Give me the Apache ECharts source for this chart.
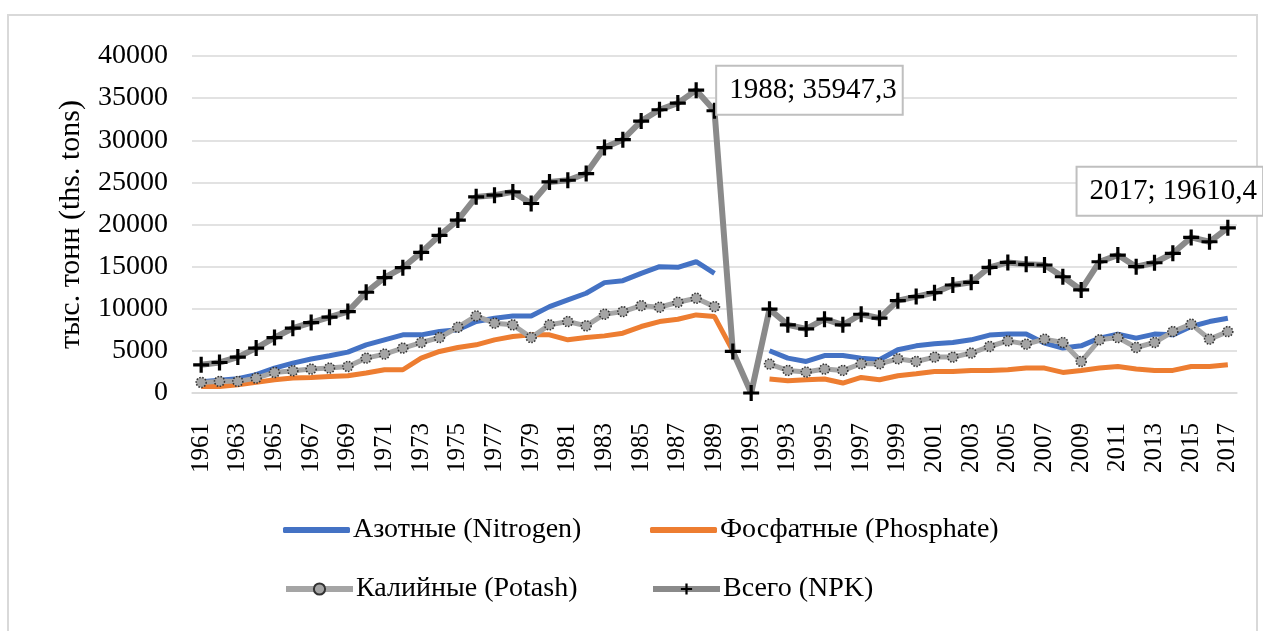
<!DOCTYPE html>
<html>
<head>
<meta charset="utf-8">
<script src="https://cdn.jsdelivr.net/npm/echarts@6/dist/echarts.min.js"></script>
<style>
  html, body { margin: 0; padding: 0; background: #fff; }
  #chart { width: 1263px; height: 631px; }
</style>
</head>
<body>
<div id="chart"></div>
<script>
// years 1961..2017
var years = [];
for (var y = 1961; y <= 2017; y++) years.push(String(y));

var nitrogen = [1350, 1500, 1700, 2170, 2960, 3550, 4030, 4420, 4850,
  5720, 6310, 6900, 6900, 7300, 7500, 8480, 8880, 9150, 9150,
  10250, 11050, 11840, 13100, 13330, 14200, 14990, 14920, 15580, 14210,
  null, null, 5010, 4140, 3740, 4450, 4450, 4140, 3940, 5130,
  5600, 5840, 5990, 6310, 6870, 6990, 6990, 5920, 5330, 5600,
  6510, 6990, 6510, 6990, 6900, 7890, 8480, 8880];

var phosphate = [780, 780, 980, 1260, 1570, 1770, 1850, 1970, 2050,
  2370, 2760, 2760, 4140, 4930, 5400, 5720, 6310, 6700, 6900,
  6900, 6310, 6580, 6780, 7100, 7890, 8480, 8760, 9270, 9070,
  5000, null, 1660, 1460, 1570, 1660, 1180, 1850, 1570, 2050,
  2290, 2560, 2560, 2680, 2680, 2760, 2960, 2960, 2440, 2680,
  2960, 3150, 2840, 2680, 2680, 3150, 3150, 3350];

var potash = [1260, 1380, 1380, 1770, 2440, 2640, 2840, 2960, 3150,
  4140, 4620, 5330, 5990, 6580, 7810, 9150, 8290, 8090, 6580,
  8090, 8480, 7970, 9350, 9660, 10370, 10180, 10770, 11250, 10250,
  null, null, 3430, 2680, 2490, 2840, 2680, 3470, 3470, 4060,
  3740, 4260, 4260, 4740, 5520, 6190, 5800, 6390, 5990, 3740,
  6310, 6580, 5400, 5990, 7290, 8170, 6390, 7290];

var npk = [3350, 3620, 4260, 5330, 6580, 7690, 8360, 9000, 9660,
  11960, 13690, 14870, 16690, 18700, 20520, 23280, 23480, 23870, 22490,
  25050, 25250, 26050, 29130, 30070, 32280, 33620, 34410, 35947.3, 33500,
  4930, 0, 9950, 8090, 7610, 8760, 8090, 9350, 8880, 10960,
  11440, 11910, 12820, 13140, 14920, 15500, 15270, 15190, 13800, 12230,
  15580, 16370, 14990, 15460, 16580, 18470, 17950, 19610.4];

var seriesNames = ['Азотные (Nitrogen)', 'Фосфатные (Phosphate)', 'Калийные (Potash)', 'Всего (NPK)'];
var yAxisTitle = 'тыс. тонн (ths. tons)';

var FONT = 'Liberation Serif';
var plusPath = 'path://M4,0h2v4h4v2h-4v4h-2v-4h-4v-2h4z';

function fmtLabel(p) {
  return p.name + '; ' + String(p.value).replace('.', ',');
}

var calloutBase = {
  show: true,
  formatter: fmtLabel,
  fontFamily: FONT,
  fontSize: 29,
  lineHeight: 36,
  color: '#000',
  backgroundColor: '#fff',
  borderColor: '#bfbfbf',
  borderWidth: 2,
  padding: [6, 5, 5, 12]
};

var npkData = npk.map(function (v, i) {
  if (years[i] === '1988') {
    return { value: v, label: Object.assign({}, calloutBase, { position: 'right', distance: 13, offset: [0, 0] }) };
  }
  if (years[i] === '2017') {
    return { value: v, label: Object.assign({}, calloutBase, { position: 'top', distance: 5, offset: [-58, 0] }) };
  }
  return v;
});

var chart = echarts.init(document.getElementById('chart'));

function legendAt(name, left, top, plain) {
  return {
    data: [plain ? { name: name, icon: 'roundRect' } : name],
    left: left,
    top: top,
    orient: 'horizontal',
    itemWidth: 67,
    itemHeight: plain ? 6 : 14,
    itemGap: 0,
    padding: 0,
    lineStyle: { width: 6 },
    textStyle: { fontFamily: FONT, fontSize: 28, color: '#000', padding: [0, 0, 0, -2] }
  };
}

chart.setOption({
  animation: false,
  backgroundColor: '#fff',
  graphic: [{
    type: 'rect',
    shape: { x: 8, y: 15, width: 1249, height: 640 },
    style: { fill: 'none', stroke: '#d9d9d9', lineWidth: 2 },
    silent: true
  }],
  legend: [
    legendAt(seriesNames[0], 283, 516, true),
    legendAt(seriesNames[1], 650, 516, true),
    legendAt(seriesNames[2], 283, 575, false),
    legendAt(seriesNames[3], 650, 575, false)
  ],
  grid: { left: 192, right: 26, top: 56, bottom: 238, outerBoundsMode: 'none' },
  xAxis: {
    type: 'category',
    data: years,
    boundaryGap: true,
    axisLine: { lineStyle: { color: '#d9d9d9', width: 1.5 } },
    axisTick: { show: false },
    axisLabel: {
      interval: 1,
      rotate: 90,
      margin: 30,
      fontFamily: FONT,
      fontSize: 25,
      color: '#000'
    }
  },
  yAxis: {
    type: 'value',
    min: 0,
    max: 40000,
    interval: 5000,
    name: yAxisTitle,
    nameLocation: 'middle',
    nameGap: 106,
    nameTextStyle: { fontFamily: FONT, fontSize: 30, color: '#000' },
    axisLine: { show: false },
    axisTick: { show: false },
    splitLine: { lineStyle: { color: '#d9d9d9', width: 1.5 } },
    axisLabel: {
      margin: 24,
      fontFamily: FONT,
      fontSize: 28,
      color: '#000',
      formatter: function (v) { return String(v); }
    }
  },
  series: [
    {
      name: seriesNames[0],
      type: 'line',
      data: nitrogen,
      symbol: 'none',
      connectNulls: false,
      lineStyle: { color: '#4472c4', width: 5 },
      itemStyle: { color: '#4472c4' }
    },
    {
      name: seriesNames[1],
      type: 'line',
      data: phosphate,
      symbol: 'none',
      connectNulls: false,
      lineStyle: { color: '#ed7d31', width: 5 },
      itemStyle: { color: '#ed7d31' }
    },
    {
      name: seriesNames[2],
      type: 'line',
      data: potash,
      symbol: 'circle',
      symbolSize: 10,
      showAllSymbol: true,
      connectNulls: false,
      lineStyle: { color: '#a5a5a5', width: 5 },
      itemStyle: { color: '#a5a5a5', borderColor: '#333', borderWidth: 1.5, borderType: 'dotted' }
    },
    {
      name: seriesNames[3],
      type: 'line',
      data: npkData,
      symbol: plusPath,
      symbolSize: 16,
      showAllSymbol: true,
      lineStyle: { color: '#8a8a8a', width: 6 },
      itemStyle: { color: '#000' }
    }
  ]
});
</script>
</body>
</html>
